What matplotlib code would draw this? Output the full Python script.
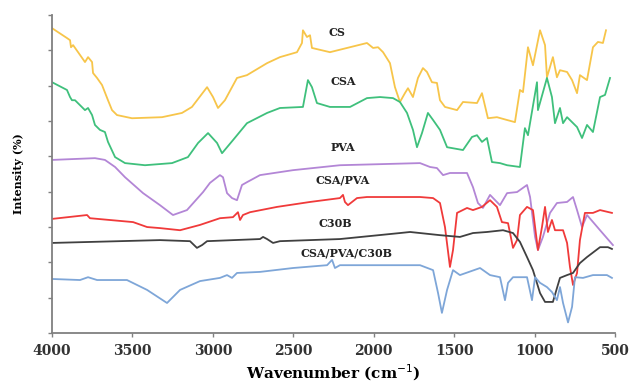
import numpy as np
import matplotlib
matplotlib.use("Agg")
import matplotlib.pyplot as plt

# ИК-спектры (волновое число, см^-1 / интенсивность, отн. ед. со сдвигом)
cs_w = [4000, 3907, 3888, 3882, 3869, 3838, 3795, 3776, 3751, 3745, 3720, 3689, 3652, 3627, 3596,
        3503, 3316, 3192, 3130, 3036, 2999, 2968, 2925, 2850, 2788, 2663, 2583, 2477, 2446, 2440,
        2415, 2396, 2384, 2272, 2166, 2042, 2004, 1973, 1942, 1899, 1868, 1837, 1806, 1787, 1756,
        1725, 1694, 1669, 1638, 1607, 1588, 1557, 1482, 1445, 1358, 1327, 1290, 1234, 1171, 1122,
        1091, 1072, 1041, 1010, 966, 935, 923, 886, 861, 842, 798, 767, 736, 718, 674, 637, 606,
        575, 556]
cs_i = [86.3, 83.5, 82.9, 80.9, 81.5, 79.5, 76.7, 78.1, 76.7, 73.6, 72.2, 70.2, 65.9, 63.1, 61.7,
        60.8, 61.1, 62.3, 64.0, 69.6, 66.8, 63.7, 65.9, 72.2, 73.0, 76.4, 78.1, 79.5, 82.1, 85.7,
        83.8, 84.3, 80.7, 79.5, 80.7, 82.1, 80.7, 80.9, 79.5, 76.4, 69.6, 65.4, 67.9, 69.3, 66.8,
        72.2, 75.0, 73.9, 71.0, 70.8, 65.9, 64.0, 63.1, 65.4, 65.1, 67.9, 60.8, 61.1, 60.3, 59.7,
        68.8, 68.2, 80.9, 75.8, 85.7, 81.5, 72.4, 78.1, 72.4, 74.4, 73.9, 71.6, 67.9, 73.0, 71.6,
        80.9, 82.4, 82.1, 85.7]

csa_w = [4000, 3907, 3888, 3876, 3857, 3795, 3776, 3751, 3733, 3702, 3671, 3652, 3608, 3546, 3422,
         3254, 3155, 3092, 3030, 2974, 2943, 2875, 2788, 2663, 2583, 2440, 2409, 2384, 2353, 2272,
         2147, 2042, 1961, 1880, 1837, 1793, 1756, 1731, 1700, 1663, 1631, 1588, 1544, 1445, 1389,
         1358, 1327, 1296, 1265, 1215, 1171, 1091, 1060, 1041, 985, 979, 923, 892, 873, 842, 823,
         798, 736, 705, 674, 637, 593, 562, 531]
csa_i = [71.0, 68.8, 66.8, 65.9, 65.9, 63.1, 63.7, 61.7, 58.9, 57.5, 56.9, 54.1, 49.8, 48.1, 47.5,
         48.1, 49.8, 53.8, 56.6, 53.8, 50.9, 54.6, 59.4, 62.3, 63.7, 64.0, 71.6, 69.6, 65.1, 64.0,
         64.0, 66.5, 66.8, 66.5, 65.4, 62.3, 57.5, 52.6, 56.6, 62.3, 60.3, 57.5, 52.6, 51.8, 55.5,
         56.0, 54.1, 55.2, 48.4, 48.1, 47.5, 47.0, 58.0, 56.0, 71.0, 63.1, 72.2, 66.8, 59.4, 63.7,
         59.4, 61.1, 58.3, 55.2, 58.9, 56.9, 66.8, 67.4, 72.2]

pva_w = [4000, 3733, 3671, 3608, 3546, 3434, 3329, 3248, 3161, 3061, 3018, 2956, 2937, 2912, 2881,
         2850, 2819, 2788, 2707, 2502, 2210, 1712, 1650, 1607, 1569, 1526, 1420, 1383, 1352, 1321,
         1277, 1215, 1171, 1109, 1047, 1028, 997, 979, 948, 904, 861, 798, 761, 736, 705, 674, 593,
         513]
pva_i = [49.0, 49.5, 49.0, 47.0, 44.1, 39.6, 36.2, 33.4, 34.8, 39.9, 42.5, 44.7, 44.1, 39.6, 38.2,
         37.6, 41.9, 42.7, 44.7, 46.1, 47.5, 48.1, 47.0, 46.7, 44.7, 45.3, 45.3, 41.3, 36.8, 35.4,
         39.1, 36.2, 39.6, 39.9, 41.9, 38.5, 27.2, 23.5, 27.2, 34.0, 36.8, 37.1, 38.5, 34.8, 30.0,
         33.4, 29.1, 24.9]

csapva_w = [4000, 3782, 3764, 3496, 3409, 3329, 3204, 3080, 2956, 2875, 2844, 2831, 2813, 2769, 2601,
            2396, 2210, 2191, 2179, 2160, 2104, 2042, 1712, 1631, 1588, 1557, 1526, 1507, 1482, 1420,
            1383, 1327, 1277, 1234, 1203, 1165, 1134, 1109, 1091, 1047, 1010, 979, 954, 935, 917,
            892, 873, 823, 798, 780, 761, 736, 718, 687, 637, 593, 519]
csapva_i = [32.3, 33.4, 32.5, 31.4, 30.0, 29.7, 29.1, 30.6, 32.5, 32.8, 34.2, 32.0, 33.4, 34.2, 35.7,
            37.1, 38.2, 39.1, 37.1, 36.2, 38.2, 38.5, 38.5, 38.2, 36.8, 30.0, 18.7, 23.5, 34.0, 35.4,
            34.8, 35.7, 37.6, 35.7, 31.4, 31.1, 24.1, 26.3, 33.4, 35.7, 34.8, 23.5, 30.0, 35.7, 28.6,
            32.0, 29.1, 29.1, 25.5, 18.7, 13.6, 17.0, 26.3, 34.0, 34.0, 34.8, 34.0]

c30b_w = [4000, 3329, 3142, 3099, 3067, 3036, 2707, 2688, 2663, 2626, 2583, 2210, 1837, 1774, 1588,
          1464, 1383, 1296, 1196, 1134, 1091, 1047, 1010, 966, 935, 886, 861, 842, 798, 761, 718,
          674, 593, 544, 519]
c30b_i = [25.5, 26.3, 26.0, 24.1, 24.9, 26.0, 26.6, 27.2, 26.6, 25.5, 26.0, 26.6, 28.3, 28.6, 27.7,
          27.2, 28.3, 28.6, 29.1, 28.3, 25.8, 21.5, 17.8, 11.3, 8.8, 8.8, 12.7, 15.6, 16.4, 17.0,
          19.8, 21.5, 24.3, 24.3, 23.8]

nano_w = [4000, 3826, 3776, 3720, 3534, 3409, 3285, 3204, 3080, 2956, 2912, 2881, 2850, 2707, 2502,
          2290, 2259, 2241, 2210, 1712, 1631, 1600, 1576, 1544, 1507, 1464, 1339, 1277, 1215, 1184,
          1165, 1134, 1047, 1016, 997, 966, 923, 892, 861, 842, 823, 792, 767, 749, 699, 637, 550,
          519]
nano_i = [15.3, 15.0, 15.8, 15.0, 15.0, 12.2, 8.5, 12.2, 14.7, 15.6, 16.4, 15.6, 17.0, 17.3, 18.4,
          19.2, 20.7, 18.4, 19.2, 19.2, 17.8, 11.3, 5.7, 12.2, 17.8, 16.4, 18.4, 16.4, 15.8, 9.3,
          14.2, 15.8, 15.8, 9.3, 15.8, 14.2, 13.0, 11.6, 9.3, 13.0, 8.5, 3.0, 7.4, 15.8, 15.6, 16.4,
          16.4, 15.6]

series = [
    (cs_w, cs_i, '#f7c54a', 'CS', 2228, 85.2),
    (csa_w, csa_i, '#3fc07c', 'CSA', 2191, 71.3),
    (pva_w, pva_i, '#b386d6', 'PVA', 2191, 52.6),
    (csapva_w, csapva_i, '#f03a3a', 'CSA/PVA', 2191, 43.3),
    (c30b_w, c30b_i, '#404040', 'C30B', 2241, 31.1),
    (nano_w, nano_i, '#7ea6d8', 'CSA/PVA/C30B', 2172, 22.6),
]

serif = ['DejaVu Serif']

fig = plt.figure(figsize=(6.32, 3.87), dpi=100)
ax = fig.add_axes([0.0823, 0.1395, 0.8908, 0.8215])

for w, i, color, name, lx, ly in series:
    ax.plot(w, i, color=color, lw=1.3)
    ax.text(lx, ly, name, family=serif, fontweight='bold', fontsize=8,
            ha='center', va='center', color='#222222')

ax.set_xlim(4000, 500)
ax.set_ylim(0, 90)
ax.set_xticks([4000, 3500, 3000, 2500, 2000, 1500, 1000, 500])
ax.set_yticks(np.arange(0, 91, 10))
ax.set_yticklabels([])
ax.tick_params(direction='out', length=3, width=1, color='#808080', pad=5)
for lbl in ax.get_xticklabels():
    lbl.set_family(serif)
    lbl.set_fontweight('bold')
    lbl.set_fontsize(10)
    lbl.set_color('#333333')

for s in ['top', 'right']:
    ax.spines[s].set_visible(False)
for s in ['left', 'bottom']:
    ax.spines[s].set_color('#808080')
    ax.spines[s].set_linewidth(1.3)

ax.set_xlabel('Wavenumber (cm$^{-1}$)', family=serif, fontweight='bold', fontsize=11,
              labelpad=3)
ax.set_ylabel('Intensity (%)', family=serif, fontweight='bold', fontsize=8, labelpad=12)

fig.savefig('out.png', dpi=100)
